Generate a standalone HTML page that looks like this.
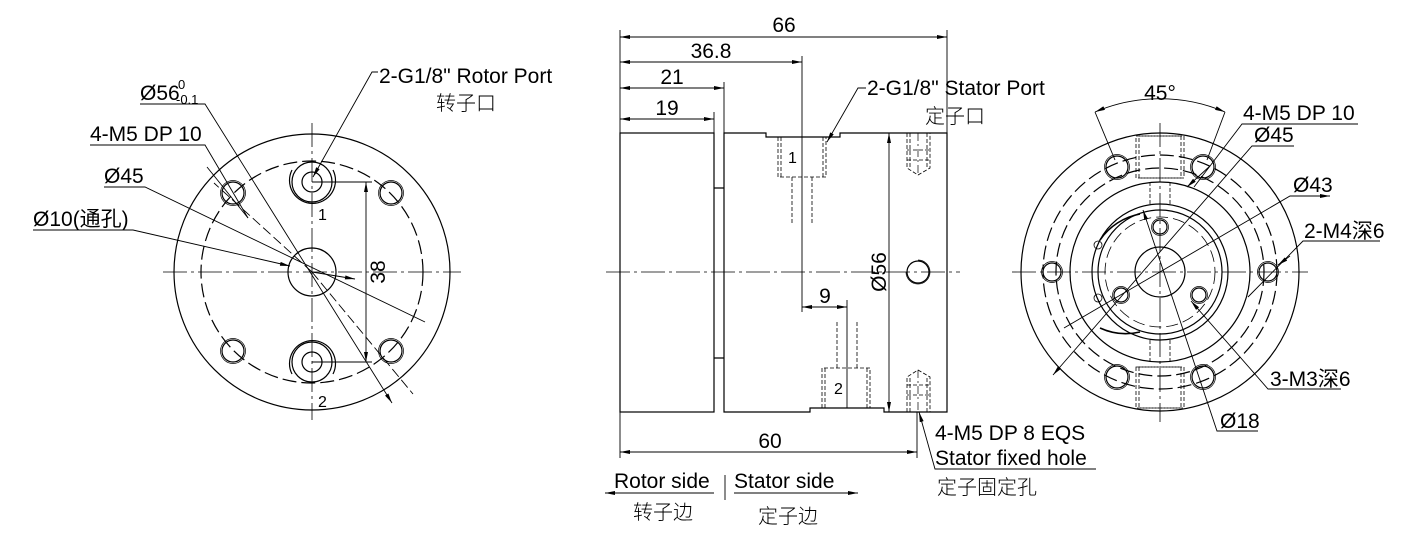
<!DOCTYPE html>
<html><head><meta charset="utf-8"><style>
html,body{margin:0;padding:0;background:#fff}
svg{display:block}
text{font-family:"Liberation Sans","Noto Sans CJK SC",sans-serif;font-size:21px;fill:#000}
.cn{font-family:"Noto Sans CJK SC",sans-serif;font-size:20px;font-weight:300}
.sm{font-size:16px}
</style></head><body>
<svg width="1421" height="558" viewBox="0 0 1421 558" xmlns="http://www.w3.org/2000/svg">
<defs>
<marker id="a" viewBox="0 0 10 4" refX="10" refY="2" markerWidth="12" markerHeight="4" markerUnits="userSpaceOnUse" orient="auto-start-reverse"><path d="M0,0L10,2L0,4z" fill="#000"/></marker>
</defs>
<g fill="none" stroke="#000" stroke-width="1.2">
<circle cx="312" cy="272" r="138"/>
<circle cx="312" cy="272" r="111" stroke-dasharray="14,5"/>
<circle cx="312" cy="272" r="24"/>
<line x1="163" y1="272" x2="461" y2="272" stroke-width="0.8" stroke-dasharray="24,4,3,4"/>
<line x1="312" y1="123" x2="312" y2="420" stroke-width="0.8" stroke-dasharray="24,4,3,4"/>
<circle cx="312" cy="182" r="10"/><circle cx="312" cy="182" r="20"/><path d="M292,170 A23,23 0 1 0 333,170" />
<circle cx="312" cy="362" r="10"/><circle cx="312" cy="362" r="20"/><path d="M292,374 A23,23 0 1 1 333,374"/>
<circle cx="233" cy="193" r="11"/><circle cx="233" cy="193" r="12.5" stroke-width="0.7"/>
<circle cx="391" cy="193" r="11"/><circle cx="391" cy="193" r="12.5" stroke-width="0.7"/>
<circle cx="233" cy="351" r="11"/><circle cx="233" cy="351" r="12.5" stroke-width="0.7"/>
<circle cx="391" cy="351" r="11"/><circle cx="391" cy="351" r="12.5" stroke-width="0.7"/>
<line x1="312" y1="182" x2="372" y2="182" stroke-width="0.9"/>
<line x1="312" y1="362" x2="372" y2="362" stroke-width="0.9"/>
<line x1="366" y1="182" x2="366" y2="362" stroke-width="0.9" marker-start="url(#a)" marker-end="url(#a)"/>
<g stroke-width="0.9">
<polyline points="140,104 205,104 392,403" marker-end="url(#a)"/>
<polyline points="90,145 205,145 248,218"/>
<line x1="207" y1="167" x2="248" y2="218"/>
<polyline points="104,187 145,187 425,322"/>
<line x1="312" y1="272" x2="355" y2="279" marker-end="url(#a)"/>
<polyline points="33,230 133,230 290,266" marker-end="url(#a)"/>
<line x1="312" y1="272" x2="413" y2="394" stroke-dasharray="10,4"/>
<line x1="312" y1="272" x2="214" y2="183" stroke-dasharray="10,4"/>
<polyline points="378,72 372,72 313,177" marker-end="url(#a)"/>
</g>
<rect x="620" y="133" width="94" height="279"/>
<path d="M724,133 H766 V137 H840 V133 H947 V412 H884 V408 H810 V412 H724 Z"/>
<path d="M714,188 H724 M714,358 H724"/>
<line x1="606" y1="272" x2="960" y2="272" stroke-width="0.8" stroke-dasharray="24,4,3,4"/>
<g stroke-width="0.8" stroke-dasharray="4,2">
<path d="M778,137 V177 H826 V137 M781,137 V177 M823,137 V177 M792,177 V223 M812,177 V223"/>
<path d="M822,408 V368 H870 V408 M825,408 V368 M867,408 V368 M837,368 V322 M857,368 V322"/>
<path d="M907,133 V168 L918,175 L930,168 V133 M910,133 V168 M927,133 V168 M907,150 H930 M907,160 H930"/>
<path d="M907,412 V377 L918,370 L930,377 V412 M910,412 V377 M927,412 V377 M907,395 H930 M907,385 H930"/>
</g>
<line x1="918" y1="133" x2="918" y2="175" stroke-width="0.7" stroke-dasharray="8,3,2,3"/>
<line x1="918" y1="370" x2="918" y2="412" stroke-width="0.7" stroke-dasharray="8,3,2,3"/>
<circle cx="918" cy="272" r="11"/><path d="M918,260 A12,12 0 1 1 906,272" stroke-width="0.7"/>
<g stroke-width="0.9">
<line x1="620" y1="30" x2="620" y2="133"/><line x1="947" y1="30" x2="947" y2="133"/>
<line x1="802" y1="56" x2="802" y2="312"/><line x1="724" y1="82" x2="724" y2="133"/><line x1="714" y1="112" x2="714" y2="133"/>
<line x1="620" y1="37" x2="947" y2="37" marker-start="url(#a)" marker-end="url(#a)"/>
<line x1="620" y1="62" x2="802" y2="62" marker-start="url(#a)" marker-end="url(#a)"/>
<line x1="620" y1="88" x2="724" y2="88" marker-start="url(#a)" marker-end="url(#a)"/>
<line x1="620" y1="119" x2="714" y2="119" marker-start="url(#a)" marker-end="url(#a)"/>
<line x1="802" y1="307" x2="847" y2="307" marker-start="url(#a)" marker-end="url(#a)"/>
<line x1="847" y1="300" x2="847" y2="408"/>
<line x1="889" y1="133" x2="889" y2="412" marker-start="url(#a)" marker-end="url(#a)"/>
<line x1="620" y1="412" x2="620" y2="458"/><line x1="917" y1="412" x2="917" y2="458"/>
<line x1="620" y1="452" x2="917" y2="452" marker-start="url(#a)" marker-end="url(#a)"/>
<polyline points="866,88 858,88 827,142" marker-end="url(#a)"/>
<polyline points="1096,469 935,469 919,412" marker-end="url(#a)"/>
<line x1="605" y1="493" x2="714" y2="493" marker-start="url(#a)"/>
<line x1="734" y1="493" x2="858" y2="493" marker-end="url(#a)"/>
<line x1="725" y1="475" x2="725" y2="500"/>
</g>
<circle cx="1160" cy="272" r="139"/>
<circle cx="1160" cy="272" r="117" stroke-dasharray="14,5"/>
<circle cx="1160" cy="272" r="104" stroke-dasharray="14,5"/>
<circle cx="1160" cy="272" r="90"/>
<circle cx="1160" cy="272" r="68"/>
<circle cx="1160" cy="272" r="62"/>
<circle cx="1160" cy="272" r="55" stroke-dasharray="12,5" stroke-width="0.8"/>
<circle cx="1160" cy="272" r="25"/>
<line x1="1012" y1="272" x2="1308" y2="272" stroke-width="0.8" stroke-dasharray="24,4,3,4"/>
<line x1="1160" y1="123" x2="1160" y2="422" stroke-width="0.8" stroke-dasharray="24,4,3,4"/>
<g stroke-width="0.8" stroke-dasharray="4,2">
<rect x="1136" y="136" width="48" height="42"/><rect x="1139" y="136" width="42" height="42"/>
<rect x="1136" y="367" width="48" height="41"/><rect x="1139" y="367" width="42" height="41"/>
<path d="M1150,182 V205 M1170,182 V205 M1150,340 V363 M1170,340 V363"/>
</g>
<circle cx="1117" cy="167" r="11"/><circle cx="1117" cy="167" r="12.5" stroke-width="0.7"/>
<circle cx="1203" cy="167" r="11"/><circle cx="1203" cy="167" r="12.5" stroke-width="0.7"/>
<circle cx="1117" cy="377" r="11"/><circle cx="1117" cy="377" r="12.5" stroke-width="0.7"/>
<circle cx="1203" cy="377" r="11"/><circle cx="1203" cy="377" r="12.5" stroke-width="0.7"/>
<circle cx="1052" cy="272" r="9"/><circle cx="1052" cy="272" r="10.5" stroke-width="0.7"/>
<circle cx="1268" cy="272" r="9"/><circle cx="1268" cy="272" r="10.5" stroke-width="0.7"/>
<circle cx="1160" cy="227" r="7"/><circle cx="1160" cy="227" r="8.5" stroke-width="0.7"/>
<circle cx="1121" cy="295" r="7"/><circle cx="1121" cy="295" r="8.5" stroke-width="0.7"/>
<circle cx="1199" cy="295" r="7"/><circle cx="1199" cy="295" r="8.5" stroke-width="0.7"/>
<path d="M1140,214 A62,62 0 0 0 1100,240 M1100,328 A62,62 0 0 0 1140,332" stroke-width="1.6"/>
<circle cx="1098" cy="245" r="4" stroke-width="0.8"/><circle cx="1098" cy="298" r="4" stroke-width="0.8"/>
<g stroke-width="0.9">
<path d="M1095,112 A165,165 0 0 1 1225,112" marker-start="url(#a)" marker-end="url(#a)"/>
<line x1="1095" y1="112" x2="1115" y2="160"/><line x1="1225" y1="112" x2="1207" y2="160"/>
<polyline points="1358,124 1242,124 1194,187"/>
<polyline points="1294,146 1252,146 1053,375" marker-end="url(#a)"/>
<line x1="1210" y1="166" x2="1187" y2="187" marker-end="url(#a)"/>
<polyline points="1330,196 1290,196 1064,328" marker-start="url(#a)"/>
<polyline points="1380,241 1303,241 1248,297"/>
<line x1="1290" y1="256" x2="1278" y2="265" marker-end="url(#a)"/>
<polyline points="1341,389 1268,389 1191,301" marker-end="url(#a)"/>
<polyline points="1258,431 1217,431 1143,210" marker-end="url(#a)"/>
</g>
</g>
<text x="140" y="100">Ø56</text><text x="178" y="89" style="font-size:13px">0</text><text x="176" y="104" style="font-size:13px">-0.1</text>
<text x="90" y="141">4-M5 DP 10</text>
<text x="104" y="183">Ø45</text>
<text x="33" y="226">Ø10(通孔)</text>
<text x="379" y="83">2-G1/8"  Rotor Port</text>
<text x="436" y="110" class="cn">转子口</text>
<text x="318" y="220" class="sm">1</text>
<text x="318" y="407" class="sm">2</text>
<text transform="translate(385,272) rotate(-90)" text-anchor="middle">38</text>
<text x="784" y="32" text-anchor="middle">66</text>
<text x="711" y="58" text-anchor="middle">36.8</text>
<text x="672" y="84" text-anchor="middle">21</text>
<text x="667" y="115" text-anchor="middle">19</text>
<text x="825" y="303" text-anchor="middle">9</text>
<text x="788" y="163" class="sm">1</text>
<text x="834" y="394" class="sm">2</text>
<text transform="translate(886,272) rotate(-90)" text-anchor="middle">Ø56</text>
<text x="867" y="95">2-G1/8" Stator Port</text>
<text x="925" y="123" class="cn">定子口</text>
<text x="770" y="448" text-anchor="middle">60</text>
<text x="935" y="440">4-M5 DP 8 EQS</text>
<text x="935" y="465">Stator fixed hole</text>
<text x="937" y="494" class="cn">定子固定孔</text>
<text x="614" y="488">Rotor side</text>
<text x="734" y="488">Stator side</text>
<text x="633" y="519" class="cn">转子边</text>
<text x="758" y="523" class="cn">定子边</text>
<text x="1160" y="100" text-anchor="middle">45°</text>
<text x="1243" y="120">4-M5 DP 10</text>
<text x="1254" y="142">Ø45</text>
<text x="1293" y="192">Ø43</text>
<text x="1304" y="238">2-M4深6</text>
<text x="1270" y="386">3-M3深6</text>
<text x="1220" y="428">Ø18</text>
</svg>
</body></html>
